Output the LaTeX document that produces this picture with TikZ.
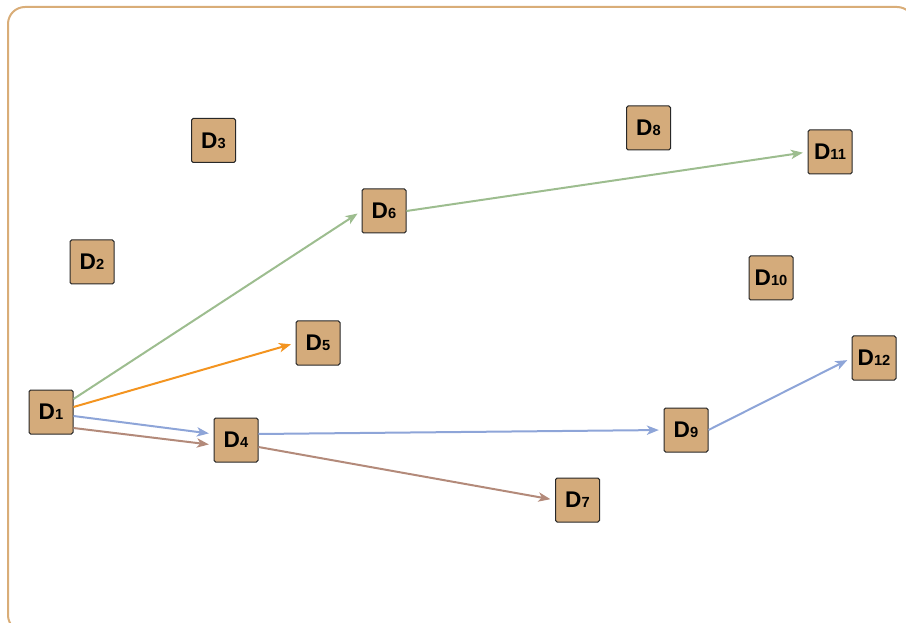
\documentclass[tikz,border=0pt]{standalone}
\usepackage{fontspec}
\setmainfont{Liberation Sans}
\usetikzlibrary{arrows.meta,calc}

\definecolor{boxfill}{RGB}{212,171,123}
\definecolor{framecol}{RGB}{217,173,120}
\definecolor{edgegreen}{RGB}{157,189,143}
\definecolor{edgeorange}{RGB}{243,148,32}
\definecolor{edgeblue}{RGB}{142,165,216}
\definecolor{edgebrown}{RGB}{179,138,122}

\newcommand{\dlabel}[1]{{\fontsize{17}{17}\selectfont\bfseries D}{\fontsize{11}{11}\selectfont\bfseries #1}}

\begin{document}
\begin{tikzpicture}[x=0.75pt,y=0.75pt,yscale=-1,xscale=1,
  dnode/.style={draw={rgb,255:red,40;green,40;blue,40},fill=boxfill,line width=0.75pt,rounded corners=1.2pt,minimum size=33pt,inner sep=0pt},
  link/.style={line width=1.5pt,-{Stealth[length=9pt,width=7pt,inset=2.5pt]},shorten >=3.5pt}]
\useasboundingbox (0,0) rectangle (906,623);
%Frame
\draw [color=framecol,line width=1.5pt,rounded corners=12.75pt] (8,7) rectangle (914,632);
% Nodes
\node [dnode] (D1) at (51,412) {\dlabel{1}};
\node [dnode] (D2) at (92,262) {\dlabel{2}};
\node [dnode] (D3) at (213.5,140.5) {\dlabel{3}};
\node [dnode] (D4) at (236,440) {\dlabel{4}};
\node [dnode] (D5) at (318,343) {\dlabel{5}};
\node [dnode] (D6) at (384,211) {\dlabel{6}};
\node [dnode] (D7) at (577.5,500) {\dlabel{7}};
\node [dnode] (D8) at (648.5,128) {\dlabel{8}};
\node [dnode] (D9) at (686,430) {\dlabel{9}};
\node [dnode] (D10) at (771,278) {\dlabel{10}};
\node [dnode] (D11) at (830,152) {\dlabel{11}};
\node [dnode] (D12) at (874,358) {\dlabel{12}};
%Straight Lines
\draw [link,color=edgegreen] ($(D1.east)+(0,-13)$) -- (D6.west);
\draw [link,color=edgeorange] ($(D1.east)+(0,-5)$) -- (D5.west);
\draw [link,color=edgeblue] ($(D1.east)+(0,4)$) -- ($(D4.west)+(0,-6)$);
\draw [link,color=edgebrown] ($(D1.east)+(0,16)$) -- ($(D4.west)+(0,5)$);
\draw [link,color=edgeblue] ($(D4.east)+(0,-6)$) -- (D9.west);
\draw [link,color=edgebrown] ($(D4.east)+(0,7)$) -- (D7.west);
\draw [link,color=edgegreen] (D6.east) -- (D11.west);
\draw [link,color=edgeblue] (D9.east) -- (D12.west);
\end{tikzpicture}
\end{document}
